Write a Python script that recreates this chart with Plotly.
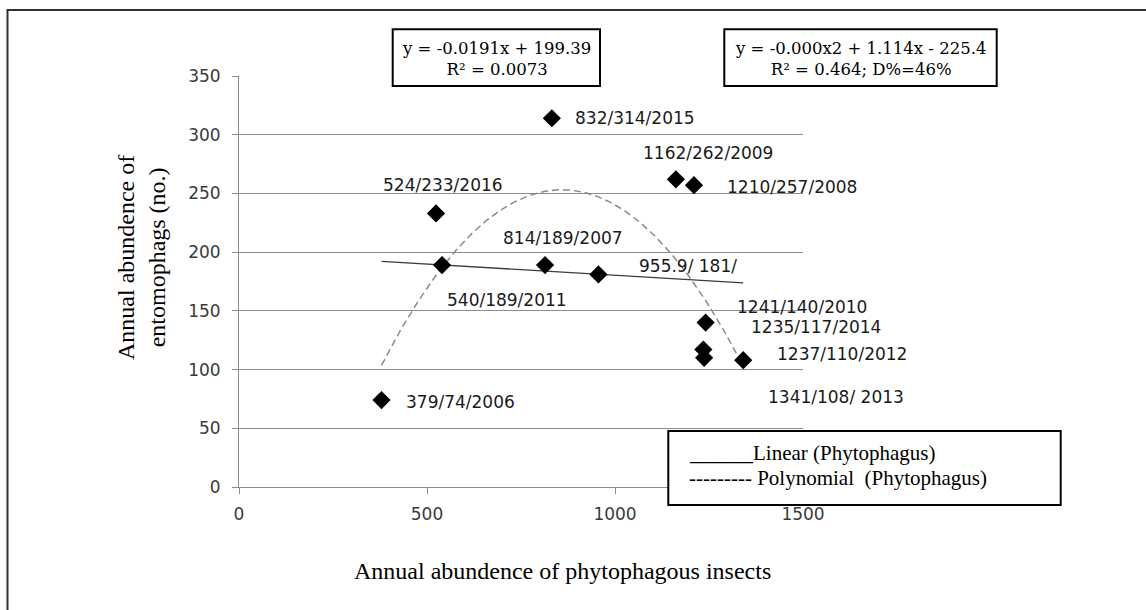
import numpy as np
import plotly.graph_objects as go

# ---- data ----
phyto = [379, 814, 1210, 1162, 1241, 540, 1237, 1341, 1235, 832, 524, 955.9]
ento = [74, 189, 257, 262, 140, 189, 110, 108, 117, 314, 233, 181]
point_labels = ["379/74/2006", "814/189/2007", "1210/257/2008", "1162/262/2009",
                "1241/140/2010", "540/189/2011", "1237/110/2012", "1341/108/ 2013",
                "1235/117/2014", "832/314/2015", "524/233/2016", "955.9/ 181/"]
x_ticks = [0, 500, 1000, 1500]
y_ticks = [0, 50, 100, 150, 200, 250, 300, 350]
eq_linear = "y = -0.0191x + 199.39<br>R\u00b2 = 0.0073"
eq_poly = "y = -0.000x2 + 1.114x - 225.4<br>R\u00b2 = 0.464; D%=46%"
legend_lines = ["______Linear (Phytophagus)", "--------- Polynomial\u00a0\u00a0(Phytophagus)"]
x_title = "Annual abundence of phytophagous insects"
y_title = "Annual abundence of<br>entomophags (no.)"

# label offsets in pixels (style/layout, not data)
label_shift = [(22, -2), (-44, 27), (31, -2), (-35, 26), (29, 16), (3, -35),
               (71, 4), (23, -37), (46, 23), (21, 0), (-55, 28), (39, 8)]

# ---- layout geometry ----
W, H = 1146, 610
L, R, T, B = 239, 343, 76, 123
PW, PH = W - L - R, H - T - B


def px(x):
    return (x - L) / PW


def py(y):
    return (H - B - y) / PH


xs = np.array(phyto, dtype=float)
ys = np.array(ento, dtype=float)
lin = np.polyfit(xs, ys, 1)
quad = np.polyfit(xs, ys, 2)
xfit = np.linspace(xs.min(), xs.max(), 200)

fig = go.Figure()
fig.add_trace(go.Scatter(x=xfit, y=np.polyval(quad, xfit), mode="lines",
                         line=dict(color="#8a8a8a", width=1.5, dash="7px,4px"),
                         showlegend=False, hoverinfo="skip"))
fig.add_trace(go.Scatter(x=xfit, y=np.polyval(lin, xfit), mode="lines",
                         line=dict(color="#3c3c3c", width=1.3),
                         showlegend=False, hoverinfo="skip"))
fig.add_trace(go.Scatter(x=phyto, y=ento, mode="markers",
                         marker=dict(symbol="diamond", size=14, color="black"),
                         showlegend=False))

annotations = []
label_font = dict(family="DejaVu Sans", size=17, color="#1a1a1a")
for xv, yv, t, (dx, dy) in zip(phyto, ento, point_labels, label_shift):
    annotations.append(dict(x=xv, y=yv, xref="x", yref="y", text=t, showarrow=False,
                            xanchor="left", yanchor="middle", xshift=dx, yshift=dy,
                            font=label_font))

eq_font = dict(family="DejaVu Serif", size=16.5, color="black")
annotations.append(dict(x=px(496.3), y=py(59), xref="paper", yref="paper", text=eq_linear,
                        showarrow=False, xanchor="center", yanchor="middle",
                        font=eq_font, align="center"))
annotations.append(dict(x=px(860.5), y=py(59), xref="paper", yref="paper", text=eq_poly,
                        showarrow=False, xanchor="center", yanchor="middle",
                        font=eq_font, align="center"))

leg_font = dict(family="Liberation Serif", size=21, color="black")
annotations.append(dict(x=px(687), y=py(453), xref="paper", yref="paper", text=legend_lines[0],
                        showarrow=False, xanchor="left", yanchor="middle", font=leg_font))
annotations.append(dict(x=px(687), y=py(478), xref="paper", yref="paper", text=legend_lines[1],
                        showarrow=False, xanchor="left", yanchor="middle", font=leg_font))

title_font = dict(family="Liberation Serif", size=24, color="black")
annotations.append(dict(x=px(562.5), y=py(571), xref="paper", yref="paper", text=x_title,
                        showarrow=False, xanchor="center", yanchor="middle", font=title_font))
annotations.append(dict(x=px(141), y=py(258), xref="paper", yref="paper", text=y_title,
                        showarrow=False, xanchor="center", yanchor="middle", textangle=-90,
                        font=title_font, align="center"))

shapes = [
    # outer frame (right/bottom edges lie outside the picture)
    dict(type="rect", xref="paper", yref="paper", x0=px(7.5), x1=px(1160), y0=py(10), y1=py(620),
         line=dict(color="#303030", width=2), fillcolor="rgba(0,0,0,0)", layer="below"),
    # equation boxes
    dict(type="rect", xref="paper", yref="paper", x0=px(392.7), x1=px(600), y0=py(29.3), y1=py(86),
         line=dict(color="black", width=2), fillcolor="white", layer="above"),
    dict(type="rect", xref="paper", yref="paper", x0=px(724.3), x1=px(996.7), y0=py(29.3), y1=py(86),
         line=dict(color="black", width=2), fillcolor="white", layer="above"),
    # legend box
    dict(type="rect", xref="paper", yref="paper", x0=px(668.3), x1=px(1060.7), y0=py(431), y1=py(505),
         line=dict(color="black", width=2), fillcolor="white", layer="above"),
]

tick_font = dict(family="DejaVu Sans", size=17, color="#3a3a3a")
fig.update_layout(
    width=W, height=H, autosize=False,
    margin=dict(l=L, r=R, t=T, b=B, pad=0),
    paper_bgcolor="white", plot_bgcolor="white",
    showlegend=False,
    annotations=annotations,
    shapes=shapes,
    xaxis=dict(range=[0, 1500], tickvals=x_ticks, ticktext=[str(v) for v in x_ticks],
               showgrid=False, zeroline=False, showline=True, linecolor="#8c8c8c", linewidth=1,
               ticks="outside", ticklen=6, tickcolor="#8c8c8c", tickfont=tick_font,
               ticklabelstandoff=6),
    yaxis=dict(range=[0, 350], tickvals=y_ticks, ticktext=[str(v) for v in y_ticks],
               showgrid=True, gridcolor="#8c8c8c", gridwidth=1, zeroline=False,
               showline=True, linecolor="#8c8c8c", linewidth=1,
               ticks="outside", ticklen=6, tickcolor="#8c8c8c", tickfont=tick_font,
               ticklabelstandoff=8),
)

fig.write_html("out.html")
